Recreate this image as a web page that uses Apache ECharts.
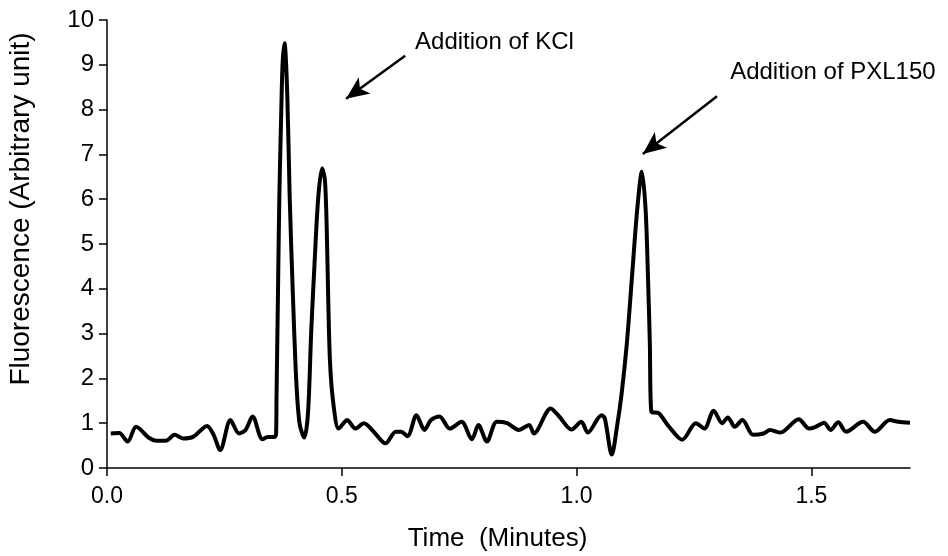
<!DOCTYPE html>
<html>
<head>
<meta charset="utf-8">
<script src="https://cdn.jsdelivr.net/npm/echarts@6/dist/echarts.min.js"></script>
<style>
html,body{margin:0;padding:0;background:#fff;}
#chart{width:948px;height:556px;}
</style>
</head>
<body>
<div id="chart"></div>
<script>
// Time (minutes)
var times = [
  0.008, 0.026, 0.044, 0.062, 0.090, 0.105, 0.126, 0.144, 0.162, 0.184,
  0.213, 0.227, 0.241, 0.263, 0.281, 0.295, 0.310, 0.331, 0.342, 0.356,
  0.360, 0.361, 0.364, 0.367, 0.371, 0.374, 0.378, 0.384, 0.389, 0.396,
  0.403, 0.410, 0.420, 0.428, 0.435, 0.442, 0.450, 0.458, 0.464, 0.468,
  0.471, 0.475, 0.482, 0.493, 0.504, 0.511, 0.529, 0.547, 0.568, 0.593,
  0.615, 0.626, 0.640, 0.659, 0.676, 0.690, 0.708, 0.730, 0.755, 0.777,
  0.791, 0.809, 0.830, 0.852, 0.877, 0.899, 0.909, 0.945, 0.963, 0.989,
  1.010, 1.024, 1.053, 1.060, 1.075, 1.086, 1.096, 1.107, 1.118, 1.129,
  1.139, 1.147, 1.152, 1.156, 1.159, 1.175, 1.197, 1.225, 1.254, 1.272,
  1.292, 1.310, 1.322, 1.337, 1.353, 1.376, 1.398, 1.412, 1.434, 1.473,
  1.495, 1.509, 1.527, 1.541, 1.557, 1.574, 1.610, 1.635, 1.667, 1.685,
  1.710
];
// Fluorescence (arbitrary unit)
var fluorescence = [
  0.77, 0.78, 0.59, 0.92, 0.67, 0.61, 0.61, 0.74, 0.66, 0.70,
  0.94, 0.74, 0.40, 1.07, 0.77, 0.85, 1.15, 0.64, 0.69, 0.69,
  0.75, 1.59, 3.82, 6.06, 7.92, 9.04, 9.48, 8.29, 6.06, 3.82,
  1.96, 1.00, 0.68, 1.22, 3.08, 4.57, 6.06, 6.69, 6.43, 5.31,
  3.82, 2.34, 1.44, 0.88, 1.00, 1.07, 0.88, 1.00, 0.81, 0.55,
  0.81, 0.81, 0.71, 1.18, 0.85, 1.07, 1.15, 0.88, 1.03, 0.64,
  0.96, 0.59, 1.03, 1.00, 0.85, 0.96, 0.77, 1.33, 1.15, 0.86,
  1.03, 0.79, 1.18, 1.11, 0.30, 0.92, 1.67, 2.78, 4.27, 5.76,
  6.61, 5.76, 4.27, 2.78, 1.26, 1.22, 0.92, 0.63, 1.00, 0.88,
  1.28, 1.00, 1.13, 0.92, 1.07, 0.74, 0.77, 0.85, 0.79, 1.09,
  0.88, 0.92, 1.01, 0.85, 1.02, 0.81, 1.03, 0.81, 1.07, 1.03,
  1.01
];
var xTicks = [0, 0.5, 1.0, 1.5];
// Annotation texts, arrow tails and tips (data coordinates)
var annoTexts = ['Addition of KCl', 'Addition of PXL150'];
var annoTextPos = [[0.656, 9.49], [1.327, 8.84]];
var arrowTails = [[0.635, 9.20], [1.299, 8.30]];
var arrowTips = [[0.509, 8.24], [1.141, 7.01]];

var FONT = 'Liberation Sans, Arial, sans-serif';
var chart = echarts.init(document.getElementById('chart'), null, {renderer: 'canvas'});

var seriesData = times.map(function (t, i) { return [t, fluorescence[i]]; });
var arrowData = arrowTails.map(function (t, i) {
  return [{coord: t}, {coord: arrowTips[i]}];
});

chart.setOption({
  animation: false,
  backgroundColor: '#fff',
  grid: {left: 107, right: 38, top: 20, bottom: 88, containLabel: false, outerBoundsMode: 'none'},
  xAxis: {
    type: 'value',
    min: 0,
    max: 1.71,
    name: 'Time  (Minutes)',
    nameLocation: 'middle',
    nameGap: 58,
    nameTextStyle: {fontFamily: FONT, fontSize: 26, color: '#000', padding: [0, 22, 0, 0]},
    axisLine: {show: true, onZero: false, lineStyle: {color: '#000', width: 1.5}},
    axisTick: {show: true, length: 8, customValues: xTicks, lineStyle: {color: '#000', width: 1.5}},
    axisLabel: {
      customValues: xTicks,
      fontFamily: FONT, fontSize: 23, color: '#000', margin: 17,
      formatter: function (v) { return v.toFixed(1); }
    },
    splitLine: {show: false}
  },
  yAxis: {
    type: 'value',
    min: 0,
    max: 10,
    interval: 1,
    name: 'Fluorescence (Arbitrary unit)',
    nameLocation: 'middle',
    nameGap: 72,
    nameRotate: 90,
    nameTextStyle: {fontFamily: FONT, fontSize: 28, color: '#000', padding: [0, 0, 0, 70]},
    axisLine: {show: true, lineStyle: {color: '#000', width: 1.5}},
    axisTick: {show: true, length: 8, lineStyle: {color: '#000', width: 1.5}},
    axisLabel: {fontFamily: FONT, fontSize: 24, color: '#000', margin: 13},
    splitLine: {show: false}
  },
  series: [{
    type: 'line',
    data: seriesData,
    showSymbol: false,
    smooth: 0.3,
    lineStyle: {color: '#000', width: 4},
    itemStyle: {color: '#000'},
    silent: true,
    markLine: {
      silent: true,
      symbol: ['none', 'arrow'],
      symbolSize: [15, 23],
      label: {show: false},
      lineStyle: {color: '#000', width: 2.5, type: 'solid'},
      emphasis: {disabled: true},
      data: arrowData
    }
  }]
});

var graphics = annoTexts.map(function (txt, i) {
  var p = chart.convertToPixel({gridIndex: 0}, annoTextPos[i]);
  return {
    type: 'text',
    x: p[0],
    y: p[1],
    silent: true,
    style: {
      text: txt,
      font: '24px ' + FONT,
      fill: '#000',
      textAlign: 'left',
      textVerticalAlign: 'middle'
    }
  };
});
chart.setOption({graphic: graphics});
</script>
</body>
</html>
